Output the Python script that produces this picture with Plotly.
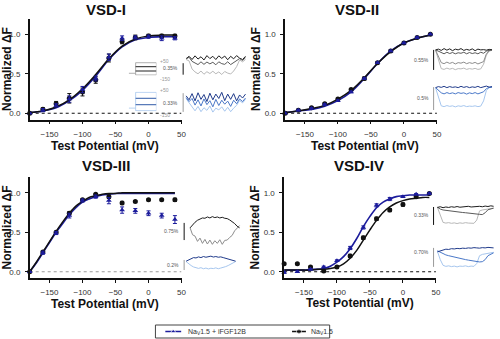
import plotly.graph_objects as go

W, H = 500, 339
FONT = "Liberation Sans, Arial, Helvetica, sans-serif"
NAVY = "#1c1c9c"
BLACK = "#111111"

# ---------------- data ----------------
V = [-180, -160, -140, -120, -100, -80, -60, -40, -20, 0, 20, 40]
FIT_V20 = [-180, -160, -140, -120, -100, -80, -60, -40, -20, 0, 20, 40]
FIT_V10 = [-180, -170, -160, -150, -140, -130, -120, -110, -100, -90, -80, -70,
           -60, -50, -40, -30, -20, -10, 0, 10, 20, 30, 40]
XTICKS = [-150, -100, -50, 0, 50]
YTICKS = [0.0, 0.5, 1.0]
YTICKTEXT = ["0.0", "0.5", "1.0"]
PANEL_TITLES = ["VSD-I", "VSD-II", "VSD-III", "VSD-IV"]
X_TITLE = "Test Potential (mV)"
Y_TITLE = "Normalized ΔF"
LEGEND_FGF = "Na<sub>V</sub>1.5 + iFGF12B"
LEGEND_NAV = "Na<sub>V</sub>1.5"

# VSD-I
vsd1_nav = [0.00, 0.05, 0.12, 0.19, 0.27, 0.42, 0.70, 0.91, 0.96, 0.98, 0.98, 0.98]
vsd1_nav_err = [0.00, 0.02, 0.03, 0.06, 0.05, 0.04, 0.05, 0.03, 0.03, 0.02, 0.02, 0.02]
vsd1_fgf = [0.00, 0.04, 0.10, 0.18, 0.30, 0.44, 0.71, 0.95, 0.96, 0.97, 0.95, 0.95]
vsd1_fgf_err = [0.00, 0.02, 0.02, 0.04, 0.04, 0.03, 0.04, 0.03, 0.02, 0.02, 0.03, 0.02]
vsd1_fit_nav = [0.01, 0.03, 0.08, 0.17, 0.31, 0.49, 0.69, 0.85, 0.94, 0.98, 0.99, 0.99]
vsd1_fit_fgf = [0.01, 0.03, 0.07, 0.16, 0.29, 0.47, 0.68, 0.84, 0.93, 0.96, 0.97, 0.97]

# VSD-II
vsd2_nav = [0.00, 0.04, 0.07, 0.12, 0.18, 0.30, 0.44, 0.64, 0.79, 0.89, 0.96, 1.00]
vsd2_nav_err = [0.00, 0.01, 0.01, 0.01, 0.01, 0.01, 0.02, 0.01, 0.01, 0.01, 0.01, 0.00]
vsd2_fgf = [0.00, 0.04, 0.06, 0.11, 0.16, 0.27, 0.44, 0.64, 0.79, 0.89, 0.96, 1.00]
vsd2_fgf_err = [0.00, 0.01, 0.01, 0.01, 0.01, 0.01, 0.01, 0.01, 0.01, 0.01, 0.01, 0.00]
vsd2_fit_nav = [0.01, 0.03, 0.06, 0.10, 0.18, 0.29, 0.45, 0.63, 0.78, 0.89, 0.95, 0.99]
vsd2_fit_fgf = [0.01, 0.03, 0.05, 0.09, 0.16, 0.27, 0.44, 0.63, 0.79, 0.89, 0.95, 0.99]

# VSD-III
vsd3_nav = [0.00, 0.25, 0.50, 0.74, 0.91, 0.98, 0.95, 0.87, 0.89, 0.91, 0.91, 0.91]
vsd3_nav_err = [0.00, 0.01, 0.01, 0.02, 0.01, 0.01, 0.02, 0.02, 0.01, 0.01, 0.01, 0.02]
vsd3_fgf = [0.00, 0.24, 0.49, 0.71, 0.90, 0.95, 0.90, 0.78, 0.77, 0.74, 0.71, 0.66]
vsd3_fgf_err = [0.00, 0.02, 0.02, 0.03, 0.02, 0.02, 0.04, 0.04, 0.03, 0.03, 0.03, 0.05]
vsd3_fit_nav = [0.00, 0.12, 0.25, 0.38, 0.51, 0.63, 0.74, 0.83, 0.89, 0.94, 0.96, 0.98,
                0.99, 0.99, 1.00, 1.00, 1.00, 1.00, 1.00, 1.00, 1.00, 1.00, 1.00]
vsd3_fit_fgf = [0.00, 0.11, 0.24, 0.37, 0.50, 0.61, 0.72, 0.81, 0.88, 0.92, 0.95, 0.97,
                0.98, 0.99, 0.99, 0.99, 0.99, 0.99, 0.99, 0.99, 0.99, 0.99, 0.99]

# VSD-IV
vsd4_nav = [0.10, 0.10, 0.06, 0.01, 0.06, 0.20, 0.43, 0.67, 0.78, 0.85, 0.95, 0.99]
vsd4_nav_err = [0.01, 0.01, 0.01, 0.01, 0.01, 0.02, 0.02, 0.02, 0.02, 0.02, 0.01, 0.01]
vsd4_fgf = [-0.01, 0.00, 0.03, 0.06, 0.14, 0.30, 0.56, 0.84, 0.92, 0.95, 0.98, 0.99]
vsd4_fgf_err = [0.01, 0.01, 0.01, 0.01, 0.01, 0.02, 0.02, 0.02, 0.02, 0.01, 0.01, 0.01]
vsd4_fit_nav = [0.02, 0.02, 0.02, 0.02, 0.02, 0.03, 0.03, 0.04, 0.06, 0.10, 0.17, 0.27,
                0.40, 0.53, 0.65, 0.75, 0.82, 0.87, 0.90, 0.92, 0.93, 0.94, 0.94]
vsd4_fit_fgf = [0.02, 0.02, 0.02, 0.02, 0.03, 0.03, 0.04, 0.07, 0.12, 0.19, 0.29, 0.42,
                0.57, 0.70, 0.81, 0.88, 0.92, 0.95, 0.96, 0.97, 0.97, 0.97, 0.97]

# inset fluorescence traces (normalised height within each inset box)
k1_top = [0.80, 0.90, 0.76, 0.92, 0.78, 0.88, 0.74, 0.93, 0.80, 0.90, 0.76, 0.92, 0.81, 0.91, 0.75, 0.90, 0.79, 0.93, 0.82, 0.76, 0.90]
k1_mid = [0.78, 0.86, 0.68, 0.62, 0.54, 0.66, 0.55, 0.65, 0.57, 0.64, 0.53, 0.66, 0.58, 0.55, 0.66, 0.54, 0.63, 0.72, 0.80, 0.72, 0.84]
k1_low = [0.76, 0.70, 0.35, 0.22, 0.14, 0.26, 0.12, 0.23, 0.15, 0.25, 0.14, 0.22, 0.11, 0.24, 0.17, 0.13, 0.26, 0.45, 0.74, 0.66, 0.76]
b1_top = [0.78, 0.60, 0.88, 0.55, 0.92, 0.62, 0.84, 0.52, 0.90, 0.60, 0.86, 0.66, 0.94, 0.56, 0.86, 0.62, 0.88, 0.55, 0.82, 0.68, 0.86]
b1_mid = [0.70, 0.52, 0.66, 0.36, 0.60, 0.32, 0.64, 0.38, 0.56, 0.28, 0.62, 0.34, 0.58, 0.40, 0.54, 0.30, 0.58, 0.42, 0.64, 0.52, 0.68]
b1_low = [0.65, 0.48, 0.30, 0.10, 0.30, 0.06, 0.24, 0.12, 0.32, 0.04, 0.22, 0.14, 0.28, 0.08, 0.26, 0.06, 0.22, 0.35, 0.57, 0.46, 0.62]

k2_top = [0.85, 0.88, 0.83, 0.90, 0.84, 0.89, 0.82, 0.88, 0.85, 0.90, 0.83, 0.87, 0.84, 0.89, 0.82, 0.88, 0.85, 0.86, 0.84, 0.87, 0.85]
k2_dk = [0.85, 0.80, 0.74, 0.70, 0.76, 0.71, 0.75, 0.70, 0.74, 0.72, 0.76, 0.70, 0.75, 0.71, 0.74, 0.70, 0.76, 0.72, 0.80, 0.84, 0.86]
k2_mid = [0.84, 0.60, 0.36, 0.32, 0.38, 0.33, 0.37, 0.31, 0.36, 0.34, 0.38, 0.32, 0.36, 0.33, 0.37, 0.31, 0.35, 0.40, 0.70, 0.82, 0.85]
k2_low = [0.83, 0.50, 0.13, 0.10, 0.15, 0.11, 0.14, 0.09, 0.13, 0.12, 0.15, 0.10, 0.13, 0.11, 0.14, 0.10, 0.12, 0.30, 0.65, 0.80, 0.84]
b2_top = [0.86, 0.90, 0.87, 0.91, 0.86, 0.90, 0.87, 0.89, 0.86, 0.91, 0.87, 0.90, 0.86, 0.89, 0.87, 0.91, 0.86, 0.90, 0.92, 0.88, 0.90]
b2_mid = [0.86, 0.75, 0.66, 0.62, 0.67, 0.63, 0.66, 0.62, 0.67, 0.64, 0.66, 0.61, 0.66, 0.63, 0.67, 0.62, 0.65, 0.70, 0.82, 0.87, 0.88]
b2_low = [0.85, 0.50, 0.16, 0.13, 0.17, 0.14, 0.16, 0.12, 0.16, 0.14, 0.17, 0.13, 0.15, 0.14, 0.16, 0.13, 0.15, 0.35, 0.75, 0.86, 0.88]

k3_top = [0.55, 0.64, 0.72, 0.78, 0.82, 0.85, 0.84, 0.88, 0.85, 0.89, 0.86, 0.88, 0.85, 0.87, 0.84, 0.83, 0.79, 0.74, 0.68, 0.60, 0.55]
k3_low = [0.55, 0.34, 0.30, 0.14, 0.24, 0.08, 0.20, 0.06, 0.18, 0.05, 0.16, 0.08, 0.19, 0.05, 0.17, 0.18, 0.26, 0.32, 0.46, 0.53, 0.62]
b3_top = [0.60, 0.68, 0.74, 0.80, 0.78, 0.84, 0.80, 0.86, 0.82, 0.85, 0.88, 0.83, 0.86, 0.82, 0.84, 0.80, 0.76, 0.72, 0.68, 0.64, 0.60]
b3_low = [0.58, 0.45, 0.36, 0.28, 0.25, 0.20, 0.24, 0.18, 0.22, 0.17, 0.21, 0.19, 0.23, 0.18, 0.22, 0.25, 0.30, 0.36, 0.44, 0.52, 0.58]

k4_top = [0.85, 0.88, 0.84, 0.87, 0.85, 0.88, 0.86, 0.89, 0.86, 0.88, 0.87, 0.90, 0.87, 0.89, 0.88, 0.90, 0.88, 0.91, 0.89, 0.92, 0.90]
k4_mid = [0.86, 0.78, 0.74, 0.72, 0.70, 0.69, 0.67, 0.66, 0.64, 0.63, 0.62, 0.60, 0.59, 0.58, 0.57, 0.55, 0.54, 0.62, 0.75, 0.80, 0.82]
k4_low = [0.85, 0.50, 0.20, 0.17, 0.19, 0.16, 0.18, 0.15, 0.18, 0.16, 0.19, 0.17, 0.18, 0.16, 0.30, 0.70, 0.74, 0.76, 0.78, 0.80, 0.82]
b4_top = [0.70, 0.74, 0.78, 0.80, 0.79, 0.82, 0.81, 0.83, 0.82, 0.84, 0.83, 0.85, 0.84, 0.86, 0.85, 0.84, 0.86, 0.85, 0.87, 0.86, 0.85]
b4_mid = [0.74, 0.68, 0.62, 0.58, 0.55, 0.52, 0.50, 0.47, 0.45, 0.42, 0.40, 0.38, 0.36, 0.34, 0.33, 0.31, 0.32, 0.40, 0.55, 0.62, 0.66]
b4_low = [0.72, 0.40, 0.18, 0.14, 0.16, 0.13, 0.15, 0.12, 0.15, 0.14, 0.16, 0.13, 0.15, 0.14, 0.25, 0.55, 0.60, 0.62, 0.64, 0.66, 0.68]

scale_labels = ["0.35%", "0.33%", "0.55%", "0.5%", "0.75%", "0.2%", "0.33%", "0.70%"]
scale_bars = [[0.10, 0.60], [0.05, 0.90], [0.08, 0.85], [0.00, 0.88],
              [0.18, 0.70], [0.11, 0.67], [0.09, 0.87], [0.12, 0.85]]

# voltage protocol (mV)
proto_hold = -122
proto_outer = [50, -150]
proto_inner = [-15, -85]
proto_labels = ["+50", "-150"]

# ---------------- figure ----------------
fig = go.Figure()
layout = {}


def fx(p):
    return p / W


def fy(p):
    return 1 - p / H


# main panels: left px, y px of zero
panels = [
    dict(left=30, y0=113.3),
    dict(left=288, y0=113.3),
    dict(left=30, y0=271.7),
    dict(left=287, y0=271.7),
]
XR = [-180, 50]
YR = [-0.08, 1.2]
PX_PER_MV = 0.6667
PX_PER_UNIT = 79.0

datasets = [
    (vsd1_nav, vsd1_nav_err, vsd1_fgf, vsd1_fgf_err, FIT_V20, vsd1_fit_nav, vsd1_fit_fgf),
    (vsd2_nav, vsd2_nav_err, vsd2_fgf, vsd2_fgf_err, FIT_V20, vsd2_fit_nav, vsd2_fit_fgf),
    (vsd3_nav, vsd3_nav_err, vsd3_fgf, vsd3_fgf_err, FIT_V10, vsd3_fit_nav, vsd3_fit_fgf),
    (vsd4_nav, vsd4_nav_err, vsd4_fgf, vsd4_fgf_err, FIT_V10, vsd4_fit_nav, vsd4_fit_fgf),
]

for i, (p, ds) in enumerate(zip(panels, datasets)):
    k = i + 1
    xs = "x" if k == 1 else f"x{k}"
    ys = "y" if k == 1 else f"y{k}"
    left = p["left"]
    right = left + (XR[1] - XR[0]) * PX_PER_MV
    top = p["y0"] - YR[1] * PX_PER_UNIT
    bot = p["y0"] - YR[0] * PX_PER_UNIT
    nav, nav_e, fgf, fgf_e, fv, fit_nav, fit_fgf = ds
    zero_col = "#9a9a9a" if k == 3 else BLACK
    fig.add_trace(go.Scatter(x=XR, y=[0, 0], mode="lines", xaxis=xs, yaxis=ys,
                             line=dict(color=zero_col, width=1.1, dash="dot"),
                             showlegend=False, hoverinfo="skip"))
    fig.add_trace(go.Scatter(x=fv, y=fit_fgf, mode="lines", xaxis=xs, yaxis=ys,
                             line=dict(color=NAVY, width=1.6, shape="spline"),
                             showlegend=False))
    fig.add_trace(go.Scatter(x=fv, y=fit_nav, mode="lines", xaxis=xs, yaxis=ys,
                             line=dict(color=BLACK, width=1.5, shape="spline"),
                             showlegend=False))
    fig.add_trace(go.Scatter(x=V, y=nav, mode="markers", xaxis=xs, yaxis=ys,
                             marker=dict(color=BLACK, size=5, symbol="circle"),
                             error_y=dict(type="data", array=nav_e, color=BLACK,
                                          thickness=1, width=2),
                             cliponaxis=False, showlegend=False))
    fig.add_trace(go.Scatter(x=V, y=fgf, mode="markers", xaxis=xs, yaxis=ys,
                             marker=dict(color=NAVY, size=5, symbol="triangle-up"),
                             error_y=dict(type="data", array=fgf_e, color=NAVY,
                                          thickness=1, width=2),
                             cliponaxis=False, showlegend=False))
    axis_common = dict(showline=True, linecolor=BLACK, linewidth=1.5, ticks="outside",
                       ticklen=3, tickwidth=1.3, tickcolor=BLACK, showgrid=False,
                       zeroline=False, tickfont=dict(family=FONT, size=8, color="#333"))
    layout["xaxis" if k == 1 else f"xaxis{k}"] = dict(
        domain=[fx(left), fx(right)], range=XR, tickvals=XTICKS,
        anchor=ys, ticklabelstandoff=3, **axis_common)
    layout["yaxis" if k == 1 else f"yaxis{k}"] = dict(
        domain=[fy(bot), fy(top)], range=YR, tickvals=YTICKS, ticktext=YTICKTEXT,
        anchor=xs, ticklabelstandoff=3,
        title=dict(text=f"<b>{Y_TITLE}</b>", standoff=1,
                   font=dict(family=FONT, size=12, color=BLACK)),
        **axis_common)

# insets: scale bar x, trace start, trace end, y top, y bottom, label pos
inset_specs = [
    dict(sb=185, t0=188, t1=248, yt=54, yb=77, lx=182, ly=68),
    dict(sb=185, t0=188, t1=248, yt=91, yb=113, lx=182, ly=103),
    dict(sb=438, t0=440, t1=497, yt=46, yb=72, lx=435, ly=60),
    dict(sb=438, t0=440, t1=497, yt=84, yb=110, lx=435, ly=98),
    dict(sb=186, t0=192, t1=242, yt=213, yb=246, lx=183, ly=231),
    dict(sb=186, t0=188, t1=238, yt=254, yb=272, lx=183, ly=265),
    dict(sb=438, t0=442, t1=500, yt=204, yb=227, lx=435, ly=215),
    dict(sb=438, t0=442, t1=500, yt=244, yb=270, lx=435, ly=252),
]
GRAYS = ["#1e1e1e", "#5a5a5a", "#8c8c8c", "#b8b8b8"]
BLUES = ["#1f3a8a", "#4a78c8", "#a6c6ee"]
inset_traces = [
    [(k1_top, GRAYS[0]), (k1_mid, GRAYS[1]), (k1_low, GRAYS[3])],
    [(b1_low, BLUES[2]), (b1_mid, BLUES[1]), (b1_top, BLUES[0])],
    [(k2_low, GRAYS[3]), (k2_mid, GRAYS[2]), (k2_dk, GRAYS[1]), (k2_top, GRAYS[0])],
    [(b2_low, BLUES[2]), (b2_mid, BLUES[1]), (b2_top, BLUES[0])],
    [(k3_low, GRAYS[2]), (k3_top, GRAYS[0])],
    [(b3_low, BLUES[2]), (b3_top, BLUES[0])],
    [(k4_low, GRAYS[3]), (k4_mid, GRAYS[1]), (k4_top, GRAYS[0])],
    [(b4_low, BLUES[2]), (b4_mid, BLUES[1]), (b4_top, BLUES[0])],
]
annotations = []
ax_i = 5
for j, (spec, trs) in enumerate(zip(inset_specs, inset_traces)):
    n = len(trs[0][0])
    u = (spec["t1"] - spec["t0"]) / (n - 1)
    left = spec["sb"] - u
    right = spec["t1"] + 0.5 * u
    xr = [(left - spec["t0"]) / u, (right - spec["t0"]) / u]
    sbv = (spec["sb"] - spec["t0"]) / u
    xs, ys = f"x{ax_i}", f"y{ax_i}"
    for vals, col in trs:
        fig.add_trace(go.Scatter(x=list(range(n)), y=vals, mode="lines", xaxis=xs, yaxis=ys,
                                 line=dict(color=col, width=1), showlegend=False,
                                 hoverinfo="skip"))
    sb_col = BLACK if j % 2 == 0 else "#9a9a9a"
    fig.add_trace(go.Scatter(x=[sbv, sbv], y=scale_bars[j], mode="lines", xaxis=xs, yaxis=ys,
                             line=dict(color=sb_col, width=1), showlegend=False,
                             hoverinfo="skip"))
    layout[f"xaxis{ax_i}"] = dict(domain=[fx(left), min(fx(right), 1)], range=xr,
                                  visible=False, anchor=ys)
    layout[f"yaxis{ax_i}"] = dict(domain=[fy(spec["yb"]), fy(spec["yt"])], range=[0, 1],
                                  visible=False, anchor=xs)
    annotations.append(dict(text=scale_labels[j], x=fx(spec["lx"]), y=fy(spec["ly"]),
                            xref="paper", yref="paper", xanchor="right", yanchor="middle",
                            showarrow=False, font=dict(family=FONT, size=5, color="#555")))
    ax_i += 1

# voltage protocol schematics (VSD-I)
proto_specs = [
    dict(yt=62.1, yb=75.6, cols=["#9a9a9a", "#222222"]),
    dict(yt=91.4, yb=111.6, cols=["#a6c6ee", "#2f5aa8"]),
]
for ps in proto_specs:
    xs, ys = f"x{ax_i}", f"y{ax_i}"
    box_x = [0.25, 1.0, 1.0, 0.25, 0.25]
    box_y = [proto_outer[0], proto_outer[0], proto_outer[1], proto_outer[1], proto_outer[0]]
    fig.add_trace(go.Scatter(x=[0.0, 0.25], y=[proto_hold, proto_hold], mode="lines",
                             xaxis=xs, yaxis=ys, line=dict(color=ps["cols"][0], width=0.8),
                             showlegend=False, hoverinfo="skip"))
    fig.add_trace(go.Scatter(x=box_x, y=box_y, mode="lines", xaxis=xs, yaxis=ys,
                             line=dict(color=ps["cols"][0], width=0.8),
                             showlegend=False, hoverinfo="skip"))
    for lv in proto_inner:
        fig.add_trace(go.Scatter(x=[0.25, 1.0], y=[lv, lv], mode="lines", xaxis=xs, yaxis=ys,
                                 line=dict(color=ps["cols"][1], width=1),
                                 showlegend=False, hoverinfo="skip"))
    layout[f"xaxis{ax_i}"] = dict(domain=[fx(130), fx(158)], range=[0, 1],
                                  visible=False, anchor=ys)
    layout[f"yaxis{ax_i}"] = dict(domain=[fy(ps["yb"]), fy(ps["yt"])], range=[-160, 60],
                                  visible=False, anchor=xs)
    annotations.append(dict(text=proto_labels[0], x=fx(159.5), y=fy(ps["yt"] - 1.5),
                            xref="paper", yref="paper", xanchor="left", yanchor="middle",
                            showarrow=False, font=dict(family=FONT, size=5, color="#999")))
    annotations.append(dict(text=proto_labels[1], x=fx(159.5), y=fy(ps["yb"] + 3),
                            xref="paper", yref="paper", xanchor="left", yanchor="middle",
                            showarrow=False, font=dict(family=FONT, size=5, color="#999")))
    ax_i += 1

# custom legend axis
lx, ly = f"x{ax_i}", f"y{ax_i}"
LEG = dict(l=157, r=333, t=325, b=338)
fig.add_trace(go.Scatter(x=[167, 175, 183], y=[0.5, 0.5, 0.5], mode="lines+markers",
                         xaxis=lx, yaxis=ly, line=dict(color=NAVY, width=1.3),
                         marker=dict(color=NAVY, size=[0, 5, 0], symbol="triangle-up"),
                         showlegend=False, hoverinfo="skip"))
fig.add_trace(go.Scatter(x=[295, 302, 309], y=[0.5, 0.5, 0.5], mode="lines+markers",
                         xaxis=lx, yaxis=ly, line=dict(color=BLACK, width=1.3),
                         marker=dict(color=BLACK, size=[0, 5, 0], symbol="circle"),
                         showlegend=False, hoverinfo="skip"))
layout[f"xaxis{ax_i}"] = dict(domain=[fx(LEG["l"]), fx(LEG["r"])], range=[LEG["l"], LEG["r"]],
                              visible=False, anchor=ly)
layout[f"yaxis{ax_i}"] = dict(domain=[fy(LEG["b"]), fy(LEG["t"])], range=[0, 1],
                              visible=False, anchor=lx)

shapes = [dict(type="rect", xref="paper", yref="paper", x0=fx(LEG["l"]), x1=fx(LEG["r"]),
               y0=fy(LEG["b"]), y1=fy(LEG["t"]), line=dict(color="#444", width=1))]
annotations.append(dict(text=LEGEND_FGF, x=fx(188), y=fy(331.5), xref="paper", yref="paper",
                        xanchor="left", yanchor="middle", showarrow=False,
                        font=dict(family=FONT, size=7, color="#333")))
annotations.append(dict(text=LEGEND_NAV, x=fx(312), y=fy(331.5), xref="paper", yref="paper",
                        xanchor="left", yanchor="middle", showarrow=False,
                        font=dict(family=FONT, size=7, color="#333")))

# titles and x-axis titles
title_pos = [(107, 9), (361, 9), (107, 165), (363, 165)]
xtitle_pos = [(106, 146), (369, 146), (106, 304), (364, 303)]
for t, (tx, ty), (ax_, ay_) in zip(PANEL_TITLES, title_pos, xtitle_pos):
    annotations.append(dict(text=f"<b>{t}</b>", x=fx(tx), y=fy(ty), xref="paper", yref="paper",
                            xanchor="center", yanchor="middle", showarrow=False,
                            font=dict(family=FONT, size=15, color=BLACK)))
    annotations.append(dict(text=f"<b>{X_TITLE}</b>", x=fx(ax_), y=fy(ay_), xref="paper",
                            yref="paper", xanchor="center", yanchor="middle", showarrow=False,
                            font=dict(family=FONT, size=12, color=BLACK)))

layout.update(dict(width=W, height=H, margin=dict(l=0, r=0, t=0, b=0),
                   paper_bgcolor="white", plot_bgcolor="rgba(0,0,0,0)",
                   showlegend=False, annotations=annotations, shapes=shapes,
                   font=dict(family=FONT)))
fig.update_layout(**layout)
fig.write_html("out.html")
